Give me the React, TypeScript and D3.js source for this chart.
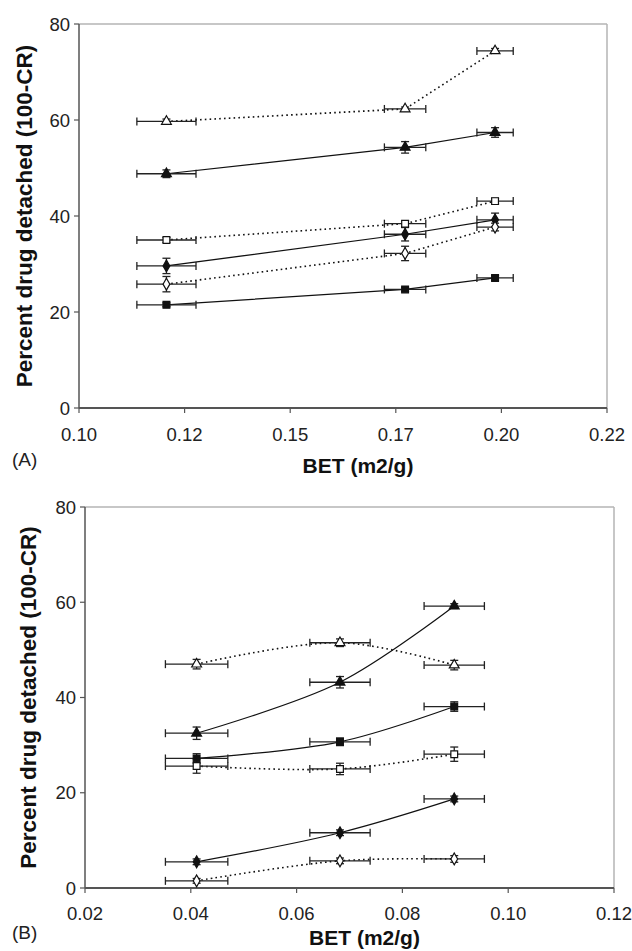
import React from 'react';
import * as d3 from 'd3';

// panel A
const betA = [0.1207, 0.1772, 0.1985];
const betErrA = [0.007, 0.0049, 0.0043];
const xTicksA = [0.1, 0.125, 0.15, 0.175, 0.2, 0.225];
const xLabelsA = ['0.10', '0.12', '0.15', '0.17', '0.20', '0.22'];
const openTriA = [59.7, 62.3, 74.4];
const openTriErrA = [0.5, 0.4, 0.5];
const fillTriA = [48.8, 54.3, 57.4];
const fillTriErrA = [0.8, 1.2, 1.0];
const openSqA = [35.0, 38.4, 43.1];
const openSqErrA = [0.5, 0.6, 0.6];
const fillDiaA = [29.6, 36.2, 39.2];
const fillDiaErrA = [1.6, 1.4, 1.4];
const openDiaA = [25.8, 32.2, 37.7];
const openDiaErrA = [1.6, 1.5, 0.8];
const fillSqA = [21.5, 24.7, 27.1];
const fillSqErrA = [0.4, 0.4, 0.5];

// panel B
const betB = [0.0411, 0.0682, 0.0898];
const betErrB = [0.0059, 0.0057, 0.0057];
const xTicksB = [0.02, 0.04, 0.06, 0.08, 0.1, 0.12];
const xLabelsB = ['0.02', '0.04', '0.06', '0.08', '0.10', '0.12'];
const openTriB = [47.0, 51.5, 46.8];
const openTriErrB = [1.0, 0.8, 1.0];
const fillTriB = [32.5, 43.2, 59.2];
const fillTriErrB = [1.3, 1.2, 0.5];
const fillSqB = [27.2, 30.7, 38.1];
const fillSqErrB = [1.0, 0.8, 1.0];
const openSqB = [25.6, 25.0, 28.1];
const openSqErrB = [1.5, 1.2, 1.5];
const fillDiaB = [5.5, 11.6, 18.7];
const fillDiaErrB = [0.6, 0.6, 0.6];
const openDiaB = [1.5, 5.7, 6.1];
const openDiaErrB = [0.5, 0.6, 0.7];

const yTicks = [0, 20, 40, 60, 80];
const FONT = '"Liberation Sans", Arial, sans-serif';

type Series = { y: number[]; err: number[]; marker: string; open: boolean; dotted: boolean };

const seriesA: Series[] = [
  { y: openTriA, err: openTriErrA, marker: 'tri', open: true, dotted: true },
  { y: fillTriA, err: fillTriErrA, marker: 'tri', open: false, dotted: false },
  { y: openSqA, err: openSqErrA, marker: 'sq', open: true, dotted: true },
  { y: fillDiaA, err: fillDiaErrA, marker: 'dia', open: false, dotted: false },
  { y: openDiaA, err: openDiaErrA, marker: 'dia', open: true, dotted: true },
  { y: fillSqA, err: fillSqErrA, marker: 'sq', open: false, dotted: false },
];

const seriesB: Series[] = [
  { y: openTriB, err: openTriErrB, marker: 'tri', open: true, dotted: true },
  { y: fillTriB, err: fillTriErrB, marker: 'tri', open: false, dotted: false },
  { y: fillSqB, err: fillSqErrB, marker: 'sq', open: false, dotted: false },
  { y: openSqB, err: openSqErrB, marker: 'sq', open: true, dotted: true },
  { y: fillDiaB, err: fillDiaErrB, marker: 'dia', open: false, dotted: false },
  { y: openDiaB, err: openDiaErrB, marker: 'dia', open: true, dotted: true },
];

const symbolFor = (m: string) =>
  m === 'tri' ? d3.symbolTriangle : m === 'sq' ? d3.symbolSquare : d3.symbolDiamond;
const sizeFor = (m: string) => (m === 'tri' ? 42 : m === 'sq' ? 46 : 40);

function Panel(props: {
  left: number; right: number; top: number; bottom: number;
  xDomain: [number, number]; xTicks: number[]; xLabels: string[];
  bet: number[]; betErr: number[]; series: Series[]; smooth: boolean;
  tag: string; yTitleX: number; tagY: number; titleY: number; labelY: number;
}) {
  const { left, right, top, bottom, xDomain, xTicks, xLabels, bet, betErr, series, smooth, tag, yTitleX, tagY, titleY, labelY } = props;
  const x = d3.scaleLinear().domain(xDomain).range([left, right]);
  const y = d3.scaleLinear().domain([0, 80]).range([bottom, top]);
  const line = d3.line<number>()
    .x((_, i) => x(bet[i]))
    .y(d => y(d))
    .curve(smooth ? d3.curveCatmullRom.alpha(0.5) : d3.curveLinear);
  const cap = 4;
  return (
    <g>
      {/* frame */}
      <line x1={left} x2={right} y1={top} y2={top} stroke="#b4b4b4" strokeWidth={1.5} />
      <line x1={right} x2={right} y1={top} y2={bottom} stroke="#b4b4b4" strokeWidth={1.5} />
      <line x1={left} x2={left} y1={top} y2={bottom} stroke="#555" strokeWidth={1.5} />
      <line x1={left} x2={right} y1={bottom} y2={bottom} stroke="#555" strokeWidth={1.8} />
      {yTicks.map(t => (
        <g key={t}>
          <line x1={left - 5} x2={left} y1={y(t)} y2={y(t)} stroke="#555" strokeWidth={1.2} />
          <text x={left - 9} y={y(t) + 6.5} textAnchor="end" fontSize={18.5} fontFamily={FONT} fill="#222">{t}</text>
        </g>
      ))}
      {xTicks.map((t, i) => (
        <g key={t}>
          <line x1={x(t)} x2={x(t)} y1={bottom} y2={bottom + 5} stroke="#555" strokeWidth={1.2} />
          <text x={x(t)} y={labelY} textAnchor="middle" fontSize={18.5} fontFamily={FONT} fill="#222">{xLabels[i]}</text>
        </g>
      ))}
      <text transform={`translate(${yTitleX},${(top + bottom) / 2}) rotate(-90)`} textAnchor="middle"
        fontSize={22.5} fontWeight="bold" fontFamily={FONT} fill="#111">Percent drug detached (100-CR)</text>
      <text x={(left + right) / 2 + 15} y={titleY} textAnchor="middle" fontSize={21} fontWeight="bold"
        fontFamily={FONT} fill="#111">BET (m2/g)</text>
      <text x={12} y={tagY} fontSize={19} fontFamily={FONT} fill="#222">{tag}</text>
      {/* lines */}
      {series.map((s, k) => (
        <path key={k} d={line(s.y) || ''} fill="none" stroke="#111" strokeWidth={s.dotted ? 1.6 : 1.2}
          strokeDasharray={s.dotted ? '1.6,3.2' : undefined} />
      ))}
      {/* error bars */}
      {series.map((s, k) => (
        <g key={k} stroke="#222" strokeWidth={1.3}>
          {s.y.map((v, i) => (
            <g key={i}>
              <line x1={x(bet[i] - betErr[i])} x2={x(bet[i] + betErr[i])} y1={y(v)} y2={y(v)} />
              <line x1={x(bet[i] - betErr[i])} x2={x(bet[i] - betErr[i])} y1={y(v) - cap} y2={y(v) + cap} />
              <line x1={x(bet[i] + betErr[i])} x2={x(bet[i] + betErr[i])} y1={y(v) - cap} y2={y(v) + cap} />
              <line x1={x(bet[i])} x2={x(bet[i])} y1={y(v - s.err[i])} y2={y(v + s.err[i])} />
              <line x1={x(bet[i]) - cap} x2={x(bet[i]) + cap} y1={y(v + s.err[i])} y2={y(v + s.err[i])} />
              <line x1={x(bet[i]) - cap} x2={x(bet[i]) + cap} y1={y(v - s.err[i])} y2={y(v - s.err[i])} />
            </g>
          ))}
        </g>
      ))}
      {/* markers */}
      {series.map((s, k) => (
        <g key={k}>
          {s.y.map((v, i) => (
            <path key={i} transform={`translate(${x(bet[i])},${y(v)})`}
              d={d3.symbol().type(symbolFor(s.marker)).size(sizeFor(s.marker))() || ''}
              fill={s.open ? '#fff' : '#111'} stroke="#111" strokeWidth={1.2} />
          ))}
        </g>
      ))}
    </g>
  );
}

export default function App() {
  return (
    <svg width={632} height={951} style={{ position: 'absolute', left: 0, top: 0, background: '#fff' }}>
      <rect width={632} height={951} fill="#fff" />
      <Panel left={79} right={607} top={24} bottom={408} xDomain={[0.1, 0.225]} xTicks={xTicksA}
        xLabels={xLabelsA} bet={betA} betErr={betErrA} series={seriesA} smooth={false} tag="(A)" yTitleX={32}
        labelY={441} tagY={466} titleY={473} />
      <Panel left={85} right={614} top={507} bottom={888} xDomain={[0.02, 0.12]} xTicks={xTicksB}
        xLabels={xLabelsB} bet={betB} betErr={betErrB} series={seriesB} smooth={true} tag="(B)" yTitleX={36}
        labelY={920} tagY={939} titleY={945} />
    </svg>
  );
}
